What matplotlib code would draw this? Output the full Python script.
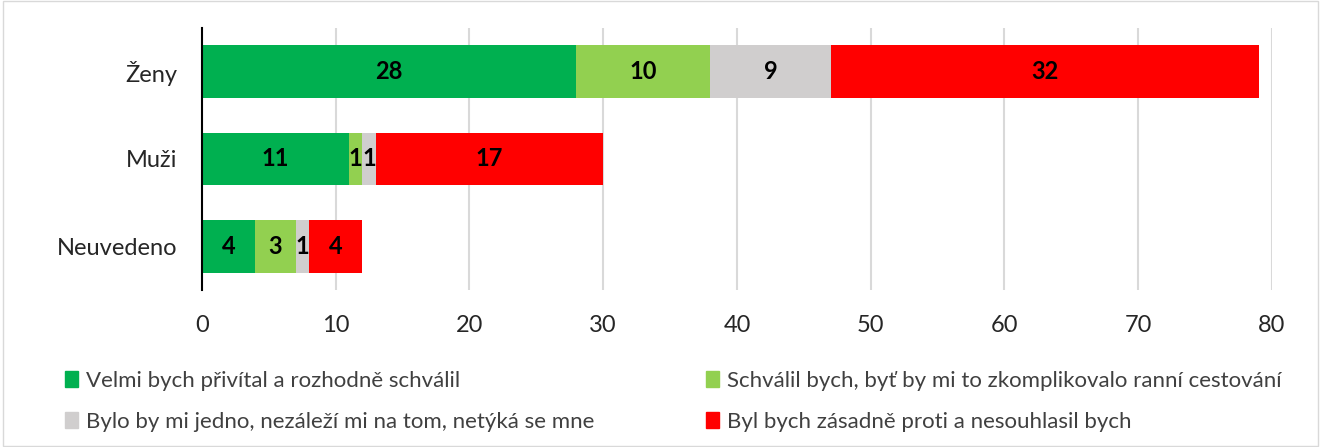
import numpy as np
import matplotlib.pyplot as plt
from matplotlib.patches import Patch, Rectangle

plt.rcParams['font.family'] = ['Lato', 'DejaVu Sans']

categories = ['Ženy', 'Muži', 'Neuvedeno']
series = ['Velmi bych přivítal a rozhodně schválil',
          'Schválil bych, byť by mi to zkomplikovalo ranní cestování',
          'Bylo by mi jedno, nezáleží mi na tom, netýká se mne',
          'Byl bych zásadně proti a nesouhlasil bych']
velmi = [28, 11, 4]
schvalil = [10, 1, 3]
jedno = [9, 1, 1]
proti = [32, 17, 4]
colors = ['#00B050', '#92D050', '#D0CECE', '#FF0000']

data = [velmi, schvalil, jedno, proti]

fig = plt.figure(figsize=(13.22, 4.47), dpi=100)
ax = fig.add_axes([0.1528, 0.3512, 0.8093, 0.5862])

y = np.arange(len(categories))
left = np.zeros(len(categories))
for vals, col, name in zip(data, colors, series):
    vals = np.array(vals, dtype=float)
    ax.barh(y, vals, left=left, height=0.6, color=col, label=name, zorder=3)
    for yi, l, v in zip(y, left, vals):
        ax.text(l + v / 2, yi, str(int(v)), ha='center', va='center',
                fontsize=17, fontweight='bold', color='black', zorder=4)
    left += vals

ax.set_ylim(2.5, -0.5)
ax.set_xlim(0, 80)
ax.set_xticks(range(0, 81, 10))
ax.set_yticks(y)
ax.set_yticklabels(categories)
ax.tick_params(axis='both', labelsize=17, length=0, labelcolor='#262626')
ax.tick_params(axis='x', pad=18)
ax.tick_params(axis='y', pad=18)
ax.grid(axis='x', color='#D9D9D9', linewidth=1.5, zorder=0)
ax.xaxis.get_gridlines()[0].set_visible(False)
for s in ['top', 'right', 'bottom']:
    ax.spines[s].set_visible(False)
ax.spines['left'].set_color('black')
ax.spines['left'].set_linewidth(1.5)
ax.spines['left'].set_zorder(5)

handles = [Patch(color=c) for c in colors]
leg_kw = dict(loc='upper left', frameon=False, fontsize=16, handlelength=0.6,
              handleheight=0.7, handletextpad=0.35, labelspacing=0.95,
              labelcolor='#404040')
fig.legend([handles[0], handles[2]], [series[0], series[2]],
           bbox_to_anchor=(0.034, 0.215), **leg_kw)
fig.legend([handles[1], handles[3]], [series[1], series[3]],
           bbox_to_anchor=(0.519, 0.215), **leg_kw)

fig.patches.append(Rectangle((0.002, 0.003), 0.995, 0.994, transform=fig.transFigure,
                             fill=False, edgecolor='#D9D9D9', linewidth=1))

fig.savefig('out.png', dpi=100)
